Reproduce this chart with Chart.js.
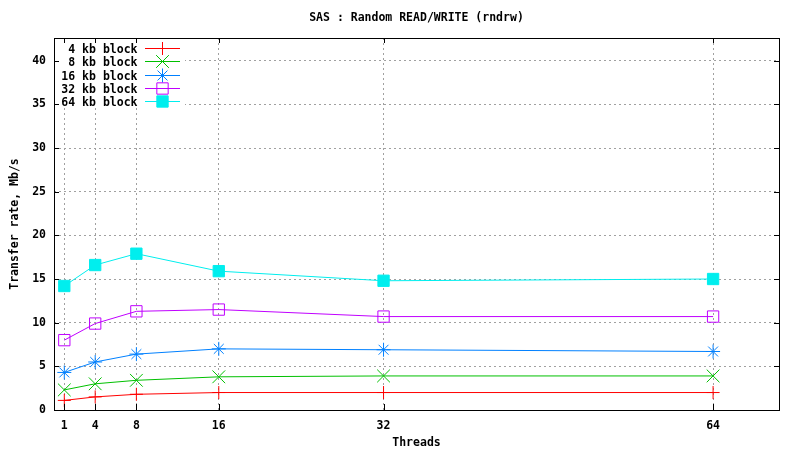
<!DOCTYPE html>
<html>
<head>
<meta charset="utf-8">
<script src="https://cdn.jsdelivr.net/npm/chart.js@4/dist/chart.umd.min.js"></script>
<style>
html,body{margin:0;padding:0;background:#fff;}
#wrap{width:800px;height:450px;}
</style>
</head>
<body>
<div id="wrap"><canvas id="c" width="800" height="450"></canvas></div>
<script>
// ---- data ----
const threads = [1, 4, 8, 16, 32, 64];
const block4  = [1.1, 1.5, 1.8, 2.0, 2.0, 2.0];
const block8  = [2.3, 3.0, 3.4, 3.8, 3.9, 3.9];
const block16 = [4.3, 5.5, 6.4, 7.0, 6.9, 6.7];
const block32 = [8.0, 9.9, 11.3, 11.5, 10.7, 10.7];
const block64 = [14.2, 16.6, 17.9, 15.9, 14.8, 15.0];
const seriesLabels = ['4 kb block', '8 kb block', '16 kb block', '32 kb block', '64 kb block'];
const yTicks = [0, 5, 10, 15, 20, 25, 30, 35, 40];
const xTicks = [1, 4, 8, 16, 32, 64];
const titleText = 'SAS : Random READ/WRITE (rndrw)';
const xTitle = 'Threads';
const yTitle = 'Transfer rate, Mb/s';

const FONT = 'bold 11.5px "DejaVu Sans Mono", "Liberation Mono", monospace';
const fontObj = {family: '"DejaVu Sans Mono", "Liberation Mono", monospace', size: 11.5, weight: 'bold'};

const styles = [
  {color: '#ff0000', point: 'cross',    radius: 6.5, fill: '#ff0000'},
  {color: '#00c000', point: 'crossRot', radius: 9,   fill: '#00c000'},
  {color: '#0080ff', point: 'star',     radius: 7,   fill: '#0080ff'},
  {color: '#c000ff', point: 'rect',     radius: 8,   fill: 'rgba(0,0,0,0)'},
  {color: '#00eeee', point: 'rect',     radius: 8,   fill: '#00eeee'}
];
const allSeries = [block4, block8, block16, block32, block64];

const datasets = allSeries.map((vals, i) => ({
  label: seriesLabels[i],
  data: threads.map((t, j) => ({x: t, y: vals[j]})),
  borderColor: styles[i].color,
  borderWidth: 1,
  pointStyle: styles[i].point,
  pointRadius: styles[i].radius,
  pointBorderColor: styles[i].color,
  pointBackgroundColor: styles[i].fill,
  pointBorderWidth: 1,
  tension: 0,
  fill: false
}));

const frame = {
  id: 'frame',
  beforeDatasetsDraw(chart) {
    const ctx = chart.ctx;
    ctx.save();
    ctx.fillStyle = '#ffffff';
    ctx.fillRect(chart.chartArea.left + 1, chart.chartArea.top + 1, 130, 68);
    ctx.font = FONT;
    ctx.textAlign = 'right';
    ctx.textBaseline = 'middle';
    chart.data.datasets.forEach((ds, i) => {
      const y = Math.round(48 + i * 13.3) + 0.5;
      ctx.fillStyle = '#000';
      ctx.fillText(ds.label, 137.5, y + 1.2);
      ctx.strokeStyle = ds.borderColor;
      ctx.lineWidth = 1;
      ctx.beginPath();
      ctx.moveTo(145, y);
      ctx.lineTo(180, y);
      ctx.stroke();
      ctx.fillStyle = ds.pointBackgroundColor;
      Chart.helpers.drawPoint(ctx, {pointStyle: ds.pointStyle, radius: ds.pointRadius, borderWidth: 1, rotation: 0}, 162.5, y);
    });
    ctx.restore();
  },
  afterDraw(chart) {
    const ctx = chart.ctx;
    const {left, right, top, bottom} = chart.chartArea;
    const xs = chart.scales.x, ys = chart.scales.y;
    ctx.save();
    ctx.strokeStyle = '#000';
    ctx.lineWidth = 1;
    ctx.beginPath();
    xTicks.forEach(v => {
      const px = Math.round(xs.getPixelForValue(v)) + 0.5;
      ctx.moveTo(px, bottom); ctx.lineTo(px, bottom - 6);
      ctx.moveTo(px, top); ctx.lineTo(px, top + 5);
    });
    yTicks.forEach(v => {
      const py = Math.round(ys.getPixelForValue(v)) + 0.5;
      ctx.moveTo(left, py); ctx.lineTo(left + 5, py);
      ctx.moveTo(right, py); ctx.lineTo(right - 5, py);
    });
    ctx.stroke();
    ctx.strokeRect(Math.round(left) + 0.5, Math.round(top) + 0.5, Math.round(right - left), Math.round(bottom - top));
    ctx.restore();
  }
};

new Chart(document.getElementById('c'), {
  type: 'line',
  data: {datasets},
  plugins: [frame],
  options: {
    responsive: false,
    animation: false,
    devicePixelRatio: 1,
    layout: {padding: {left: 0, right: 21, top: 0, bottom: 0}},
    plugins: {
      legend: {display: false},
      tooltip: {enabled: false},
      title: {
        display: true,
        text: titleText,
        fullSize: false,
        color: '#000',
        font: fontObj,
        padding: {top: 11, bottom: 13.2}
      }
    },
    scales: {
      x: {
        type: 'linear',
        min: 0,
        max: 70.4,
        afterBuildTicks: s => { s.ticks = xTicks.map(v => ({value: v})); },
        afterFit: s => { s.height = 40; },
        grid: {color: '#a0a0a0', lineWidth: 1, drawTicks: false},
        border: {display: false, dash: [2, 3]},
        ticks: {color: '#000', font: fontObj, padding: 9, maxRotation: 0, autoSkip: false, callback: v => String(v)},
        title: {display: true, text: xTitle, color: '#000', font: fontObj, padding: 0}
      },
      y: {
        type: 'linear',
        min: 0,
        max: 42.6,
        afterBuildTicks: s => { s.ticks = yTicks.map(v => ({value: v})); },
        afterFit: s => { s.width = 54; },
        grid: {color: c => (c.tick && c.tick.value === 0) ? 'rgba(0,0,0,0)' : '#a0a0a0', lineWidth: 1, drawTicks: false},
        border: {display: false, dash: [2, 3]},
        ticks: {color: '#000', font: fontObj, padding: 8, autoSkip: false, callback: v => String(v)},
        title: {display: true, text: yTitle, color: '#000', font: fontObj, padding: 8}
      }
    }
  }
});
</script>
</body>
</html>
